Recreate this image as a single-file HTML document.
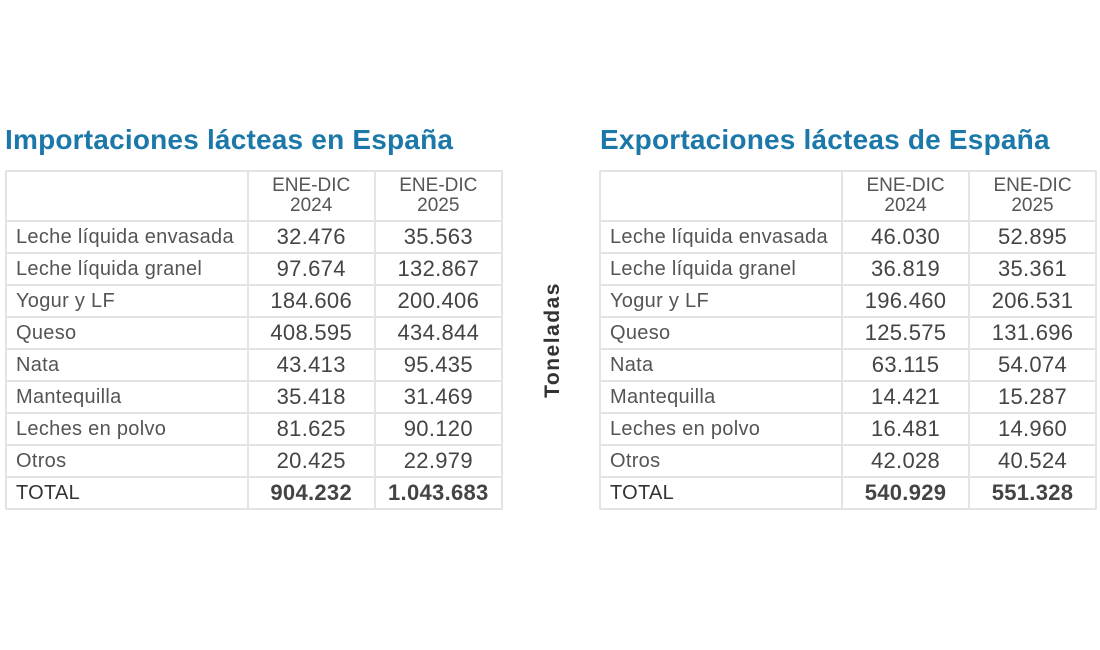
<!DOCTYPE html>
<html><head><meta charset="utf-8"><style>
body{margin:0;width:1100px;height:650px;background:#fff;font-family:"Liberation Sans",sans-serif;position:relative;overflow:hidden}
h2{position:absolute;margin:0;font-size:28px;font-weight:bold;color:#1b78a8;top:124px;letter-spacing:0.2px}
table{position:absolute;top:170px;border-collapse:collapse;width:498px;color:#444}
td{border:2px solid #e4e4e4;padding:0;height:30px;font-size:20px}
td.l{padding-left:9px;width:234px;color:#555;letter-spacing:0.3px}
td.n{text-align:center;font-size:22px;width:126px;letter-spacing:0.3px}
tr.h td{height:48px;text-align:center;font-size:19px;line-height:20px;color:#555}
tr.t td.n{font-weight:bold}
tr.t td.l{color:#333}
.ton{position:absolute;left:553px;top:340px;transform:translate(-50%,-50%) rotate(-90deg);font-weight:bold;font-size:21px;letter-spacing:1.5px;color:#333}
</style></head><body>
<h2 style="left:5px">Importaciones lácteas en España</h2>
<h2 style="left:600px">Exportaciones lácteas de España</h2>
<div class="ton">Toneladas</div>
<table style="left:5px">
<tr class="h"><td class="l"></td><td>ENE-DIC<br>2024</td><td>ENE-DIC<br>2025</td></tr>
<tr><td class="l">Leche líquida envasada</td><td class="n">32.476</td><td class="n">35.563</td></tr>
<tr><td class="l">Leche líquida granel</td><td class="n">97.674</td><td class="n">132.867</td></tr>
<tr><td class="l">Yogur y LF</td><td class="n">184.606</td><td class="n">200.406</td></tr>
<tr><td class="l">Queso</td><td class="n">408.595</td><td class="n">434.844</td></tr>
<tr><td class="l">Nata</td><td class="n">43.413</td><td class="n">95.435</td></tr>
<tr><td class="l">Mantequilla</td><td class="n">35.418</td><td class="n">31.469</td></tr>
<tr><td class="l">Leches en polvo</td><td class="n">81.625</td><td class="n">90.120</td></tr>
<tr><td class="l">Otros</td><td class="n">20.425</td><td class="n">22.979</td></tr>
<tr class="t"><td class="l">TOTAL</td><td class="n">904.232</td><td class="n">1.043.683</td></tr>
</table>
<table style="left:599px">
<tr class="h"><td class="l"></td><td>ENE-DIC<br>2024</td><td>ENE-DIC<br>2025</td></tr>
<tr><td class="l">Leche líquida envasada</td><td class="n">46.030</td><td class="n">52.895</td></tr>
<tr><td class="l">Leche líquida granel</td><td class="n">36.819</td><td class="n">35.361</td></tr>
<tr><td class="l">Yogur y LF</td><td class="n">196.460</td><td class="n">206.531</td></tr>
<tr><td class="l">Queso</td><td class="n">125.575</td><td class="n">131.696</td></tr>
<tr><td class="l">Nata</td><td class="n">63.115</td><td class="n">54.074</td></tr>
<tr><td class="l">Mantequilla</td><td class="n">14.421</td><td class="n">15.287</td></tr>
<tr><td class="l">Leches en polvo</td><td class="n">16.481</td><td class="n">14.960</td></tr>
<tr><td class="l">Otros</td><td class="n">42.028</td><td class="n">40.524</td></tr>
<tr class="t"><td class="l">TOTAL</td><td class="n">540.929</td><td class="n">551.328</td></tr>
</table>
</body></html>
